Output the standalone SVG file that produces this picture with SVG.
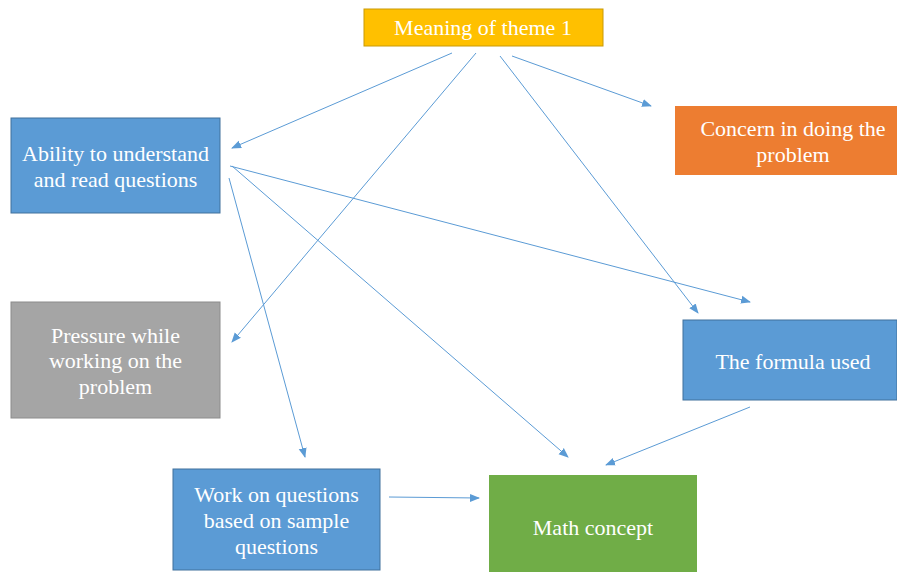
<svg xmlns="http://www.w3.org/2000/svg" width="897" height="572" viewBox="0 0 897 572">
<defs>
<marker id="ah" viewBox="0 0 10 10" refX="9" refY="5" markerWidth="10" markerHeight="10" markerUnits="userSpaceOnUse" orient="auto">
<path d="M0,1 L10,5 L0,9 z" fill="#5B9BD5"/>
</marker>
<style>
.t{font-family:"Liberation Serif","Times New Roman",serif;font-size:22px;fill:#fff;text-anchor:middle}
.c{stroke:#5B9BD5;stroke-width:1;fill:none;marker-end:url(#ah)}
</style>
</defs>
<rect width="897" height="572" fill="#fff"/>
<g id="meaning"><rect x="364" y="9" width="239" height="37" fill="#FFC000" stroke="#C99A06"/><text class="t" x="483" y="35">Meaning of theme 1</text></g>
<g id="ability"><rect x="11" y="118" width="209" height="95" fill="#5B9BD5" stroke="#41719C"/><text class="t" x="115.5" y="161">Ability to understand</text><text class="t" x="115.5" y="187">and read questions</text></g>
<g id="concern"><rect x="675" y="106" width="222" height="69" fill="#ED7D31"/><text class="t" x="793" y="136">Concern in doing the</text><text class="t" x="793" y="162">problem</text></g>
<g id="formula"><rect x="683" y="320" width="214" height="80" fill="#5B9BD5" stroke="#41719C"/><text class="t" x="793" y="369">The formula used</text></g>
<g id="pressure"><rect x="11" y="302" width="209" height="116" fill="#A5A5A5" stroke="#8C8C8C"/><text class="t" x="115.5" y="343">Pressure while</text><text class="t" x="115.5" y="368">working on the</text><text class="t" x="115.5" y="394">problem</text></g>
<g id="work"><rect x="173" y="469" width="207" height="101" fill="#5B9BD5" stroke="#41719C"/><text class="t" x="276.5" y="502">Work on questions</text><text class="t" x="276.5" y="528">based on sample</text><text class="t" x="276.5" y="554">questions</text></g>
<g id="math"><rect x="489" y="475" width="208" height="97" fill="#70AD47"/><text class="t" x="593" y="535">Math concept</text></g>
<g id="connectors">
<line class="c" x1="452" y1="53" x2="232" y2="148"/>
<line class="c" x1="476" y1="53" x2="232" y2="342"/>
<line class="c" x1="500" y1="56" x2="698" y2="313"/>
<line class="c" x1="512" y1="56" x2="651" y2="106"/>
<line class="c" x1="230" y1="166" x2="750" y2="302"/>
<line class="c" x1="232" y1="166" x2="568" y2="457"/>
<line class="c" x1="229" y1="178" x2="305" y2="457"/>
<line class="c" x1="389" y1="497" x2="479" y2="498"/>
<line class="c" x1="750" y1="407" x2="606" y2="465"/>
</g>
</svg>
